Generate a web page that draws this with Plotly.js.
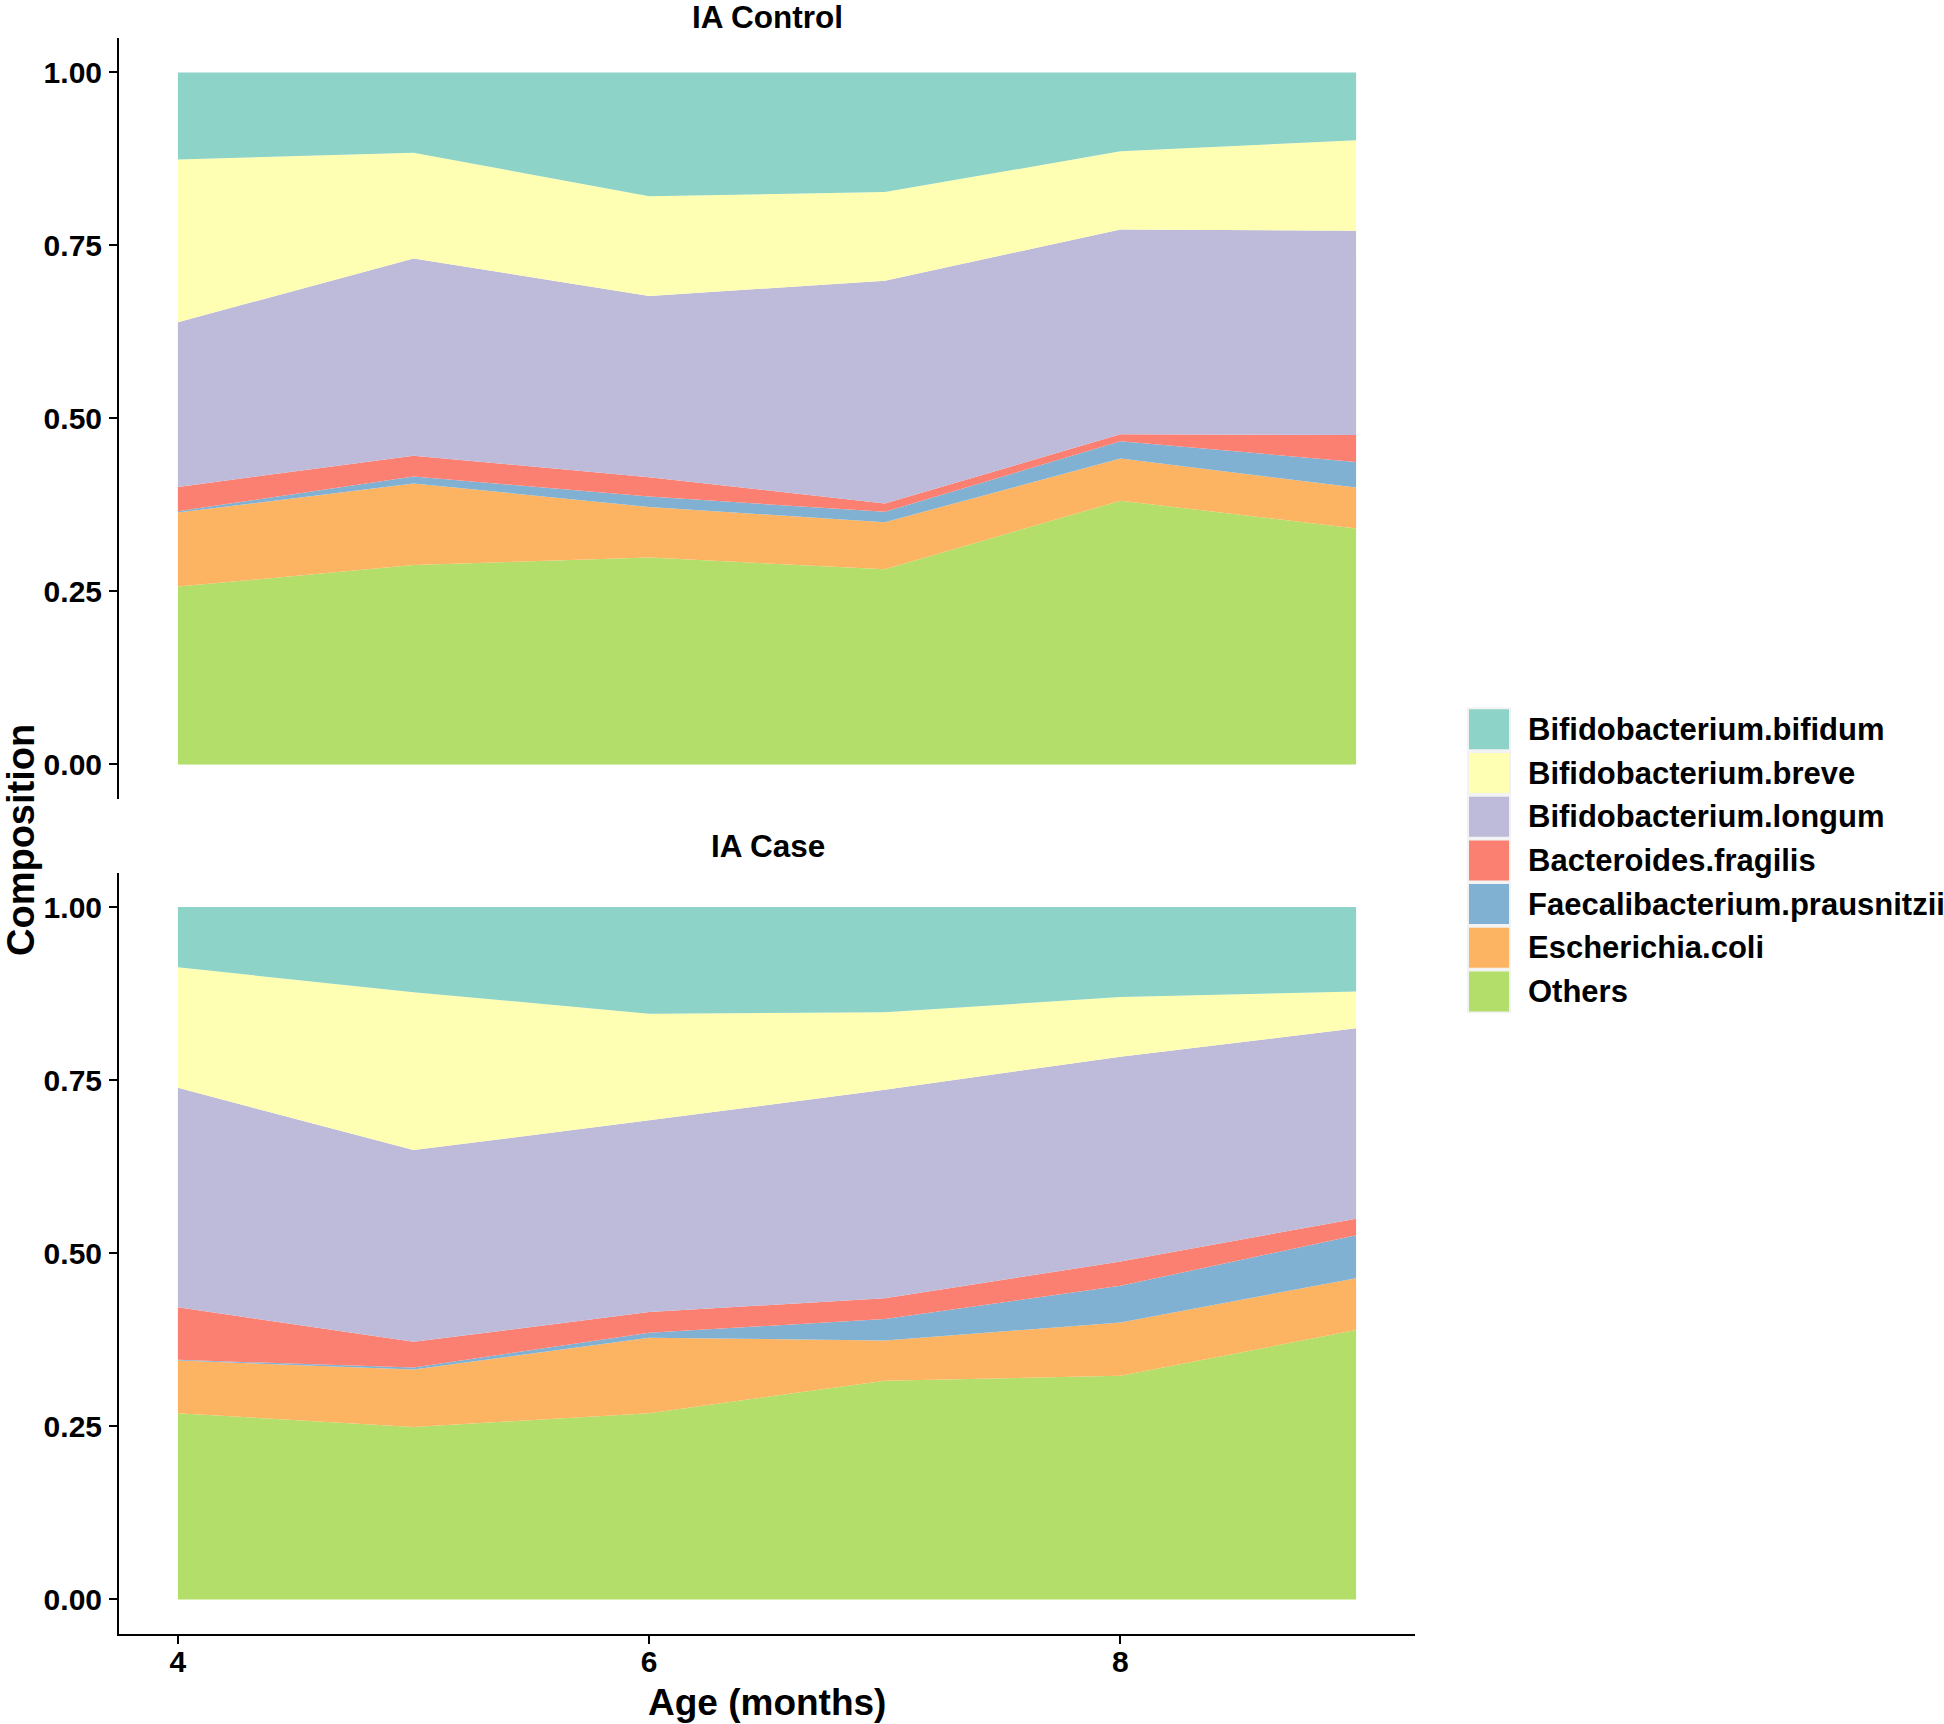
<!DOCTYPE html>
<html>
<head>
<meta charset="utf-8">
<script src="https://cdn.plot.ly/plotly-3.0.1.min.js"></script>
<style>html,body{margin:0;padding:0;background:#fff;}#chart{width:1944px;height:1724px;}</style>
</head>
<body>
<div id="chart"></div>
<script>
// ---- data ----
const ages = [4, 5, 6, 7, 8, 9];
const species = ["Bifidobacterium.bifidum", "Bifidobacterium.breve", "Bifidobacterium.longum",
                 "Bacteroides.fragilis", "Faecalibacterium.prausnitzii", "Escherichia.coli", "Others"];
const colors = ["#8DD3C7", "#FFFFB3", "#BEBADA", "#FB8072", "#80B1D3", "#FDB462", "#B3DE69"];
const panelTitles = ["IA Control", "IA Case"];
const yTicks = [0, 0.25, 0.5, 0.75, 1];
const yTickText = ["0.00", "0.25", "0.50", "0.75", "1.00"];
const xTicks = [4, 6, 8];

// IA Control
const bifidumCtrl = [0.126, 0.116, 0.179, 0.173, 0.114, 0.098];
const breveCtrl   = [0.235, 0.153, 0.144, 0.128, 0.113, 0.131];
const longumCtrl  = [0.238, 0.285, 0.262, 0.322, 0.296, 0.295];
const fragilisCtrl= [0.035, 0.030, 0.028, 0.012, 0.010, 0.039];
const faecaliCtrl = [0.002, 0.010, 0.015, 0.015, 0.025, 0.037];
const coliCtrl    = [0.107, 0.118, 0.073, 0.068, 0.061, 0.059];
const othersCtrl  = [0.257, 0.288, 0.299, 0.282, 0.381, 0.341];

// IA Case
const bifidumCase = [0.087, 0.123, 0.154, 0.152, 0.130, 0.122];
const breveCase   = [0.174, 0.228, 0.154, 0.112, 0.086, 0.053];
const longumCase  = [0.317, 0.277, 0.277, 0.301, 0.296, 0.275];
const fragilisCase= [0.076, 0.037, 0.030, 0.030, 0.035, 0.024];
const faecaliCase = [0.001, 0.003, 0.007, 0.031, 0.053, 0.062];
const coliCase    = [0.076, 0.083, 0.109, 0.058, 0.077, 0.075];
const othersCase  = [0.269, 0.249, 0.269, 0.316, 0.323, 0.389];

const ctrlSeries = [bifidumCtrl, breveCtrl, longumCtrl, fragilisCtrl, faecaliCtrl, coliCtrl, othersCtrl];
const caseSeries = [bifidumCase, breveCase, longumCase, fragilisCase, faecaliCase, coliCase, othersCase];

// ---- layout helpers (canvas pixel -> paper fraction) ----
const W = 1944, H = 1724;
const px = x => x / W;
const py = y => 1 - y / H;
const FONT = "Liberation Sans, Arial, Helvetica, sans-serif";

const traces = [];
function addPanel(series, xa, ya, group) {
  // stack from bottom (Others) to top (bifidum)
  for (let i = series.length - 1; i >= 0; i--) {
    traces.push({
      type: "scatter", mode: "lines", x: ages, y: series[i],
      xaxis: xa, yaxis: ya, stackgroup: group,
      name: species[i], line: {width: 0, color: colors[i]},
      fillcolor: colors[i], showlegend: false, hoverinfo: "x+y+name"
    });
  }
}
addPanel(ctrlSeries, "x2", "y2", "ctrl");
addPanel(caseSeries, "x", "y", "case");

const xDom = [px(119), px(1415)];
const yAxisCommon = {
  range: [-0.05, 1.05], tickvals: yTicks, ticktext: yTickText,
  showgrid: false, zeroline: false, showline: true, linecolor: "#000", linewidth: 2,
  ticks: "outside", ticklen: 8, tickwidth: 2, tickcolor: "#000",
  tickfont: {family: FONT, size: 30, color: "#000", weight: 700},
  ticklabelstandoff: 1
};

const annotations = [
  {text: panelTitles[0], x: px(767.5), y: py(17), xref: "paper", yref: "paper",
   xanchor: "center", yanchor: "middle", showarrow: false,
   font: {family: FONT, size: 31.5, color: "#000", weight: 700}},
  {text: panelTitles[1], x: px(767.5), y: py(846), xref: "paper", yref: "paper",
   xanchor: "center", yanchor: "middle", showarrow: false,
   font: {family: FONT, size: 31.5, color: "#000", weight: 700}},
  {text: "Age (months)", x: px(767), y: py(1702), xref: "paper", yref: "paper",
   xanchor: "center", yanchor: "middle", showarrow: false,
   font: {family: FONT, size: 37, color: "#000", weight: 700}},
  {text: "Composition", x: px(21), y: py(840), xref: "paper", yref: "paper",
   xanchor: "center", yanchor: "middle", showarrow: false, textangle: -90,
   font: {family: FONT, size: 38, color: "#000", weight: 700}}
];

const shapes = [];
const keyX0 = 1469, keyX1 = 1509, keyY0 = 729.3, keyStep = 43.7;
species.forEach((s, i) => {
  const cy = keyY0 + i * keyStep;
  shapes.push({type: "rect", xref: "paper", yref: "paper",
    x0: px(keyX0 - 2), x1: px(keyX1 + 2), y0: py(cy - keyStep / 2), y1: py(cy + keyStep / 2),
    fillcolor: "#F2F2F2", line: {width: 0}, layer: "above"});
  shapes.push({type: "rect", xref: "paper", yref: "paper",
    x0: px(keyX0), x1: px(keyX1), y0: py(cy - 20), y1: py(cy + 20),
    fillcolor: colors[i], line: {width: 0}, layer: "above"});
  annotations.push({text: s, x: px(1526), y: py(cy), xref: "paper", yref: "paper",
    xanchor: "left", yanchor: "middle", showarrow: false,
    font: {family: FONT, size: 31, color: "#000", weight: 700}});
});

const layout = {
  width: W, height: H,
  margin: {l: 0, r: 0, t: 0, b: 0, autoexpand: false},
  paper_bgcolor: "#fff", plot_bgcolor: "#fff",
  showlegend: false,
  xaxis: {domain: xDom, anchor: "y", range: [3.75, 9.25], tickvals: xTicks,
    showgrid: false, zeroline: false, showline: true, linecolor: "#000", linewidth: 2,
    ticks: "outside", ticklen: 8, tickwidth: 2, tickcolor: "#000",
    tickfont: {family: FONT, size: 30, color: "#000", weight: 700}, ticklabelstandoff: -8},
  xaxis2: {domain: xDom, anchor: "y2", range: [3.75, 9.25], matches: "x",
    showgrid: false, zeroline: false, showline: false, showticklabels: false, ticks: ""},
  yaxis: Object.assign({domain: [py(1634), py(872.5)], anchor: "x"}, yAxisCommon),
  yaxis2: Object.assign({domain: [py(799), py(37.8)], anchor: "x2"}, yAxisCommon),
  annotations: annotations,
  shapes: shapes
};

Plotly.newPlot("chart", traces, layout, {displayModeBar: false, staticPlot: true});
</script>
</body>
</html>
